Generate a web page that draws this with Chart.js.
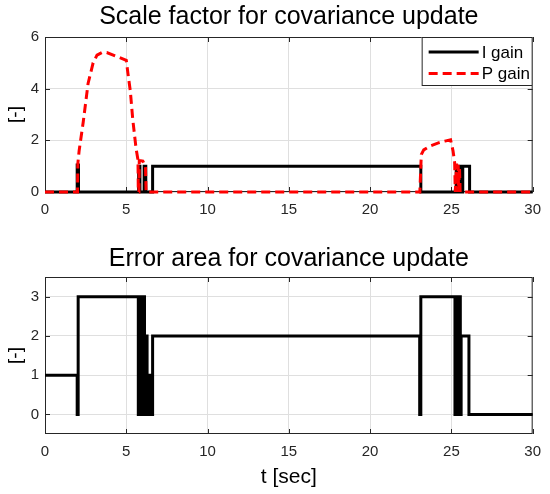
<!DOCTYPE html>
<html>
<head>
<meta charset="utf-8">
<script src="https://cdn.jsdelivr.net/npm/chart.js@4.4.1/dist/chart.umd.min.js"></script>
<style>
  html, body { margin: 0; padding: 0; background: #fff; }
  #wrap { position: relative; width: 550px; height: 494px; }
  .panel { position: absolute; left: 0; width: 550px; }
</style>
</head>
<body>
<div id="wrap">
  <div class="panel" style="top:0;height:240px"><canvas id="c_top" width="550" height="240"></canvas></div>
  <div class="panel" style="top:240px;height:254px"><canvas id="c_bottom" width="550" height="254"></canvas></div>
</div>
<script>
// tick labels
var x_ticks = [0, 5, 10, 15, 20, 25, 30];
var y_ticks_top = [0, 2, 4, 6];
var y_ticks_bottom = [0, 1, 2, 3];

// I gain (step signal): level i holds between edge i and edge i+1
var igain_edges = [0, 1.98, 2.06, 5.76, 5.84, 6.1, 6.2, 6.62, 23.12, 25.3, 25.36, 25.46, 25.52, 25.7, 26.12, 30];
var igain_levels = [0, 1.05, 0, 1, 0, 1, 0, 1, 0, 1, 0, 1, 0, 1, 0];

// P gain (curve)
var pgain_t = [0, 2.0, 2.02, 2.1, 2.35, 2.65, 2.96, 3.2, 3.5, 3.8,
               4.4, 5.0, 5.1, 5.25, 5.4, 5.6, 5.72, 5.74, 5.78, 5.8,
               6.02, 6.18, 6.22, 23.06, 23.15, 23.3, 23.7, 24.2, 24.6, 24.95,
               25.1, 25.2, 25.24, 25.32, 25.34, 25.42, 25.44, 25.5, 25.54, 30];
var pgain_v = [0, 0, 1.1, 1.6, 2.7, 4.2, 5.0, 5.3, 5.4, 5.4,
               5.25, 5.1, 4.6, 3.9, 2.8, 1.7, 1.24, 0, 0, 1.22,
               1.2, 1.0, 0, 0, 1.45, 1.63, 1.78, 1.9, 1.97, 2.02,
               1.6, 1.15, 0, 1.1, 0, 1.05, 0, 0.95, 0, 0];

// error area (step signal)
var area_edges = [0, 1.98, 2.04, 5.74, 5.8, 5.96, 6.02, 6.12, 6.2, 6.28, 6.35, 6.52, 6.62,
                  23.05, 23.12, 25.22, 25.27, 25.32, 25.37, 25.42, 25.47, 25.55, 25.6, 26.08, 30];
var area_levels = [1, 0, 3, 0, 3, 0, 3, 0, 2, 0, 1, 0, 2, 0, 3, 0, 3, 0, 3, 0, 3, 0, 2, 0];

var font_family = "'Liberation Sans', Arial, Helvetica, sans-serif";
var clr_axis = '#262626';
var clr_grid = '#dfdfdf';

Chart.defaults.font.family = font_family;
Chart.defaults.color = clr_axis;

function step_points(edges, levels) {
  var pts = [];
  for (let i = 0; i < levels.length; i++) {
    pts.push({x: edges[i], y: levels[i]});
    pts.push({x: edges[i + 1], y: levels[i]});
  }
  return pts;
}

function curve_points(t, v) {
  return t.map(function(x, i) {return {x: x, y: v[i]}});
}

function fixed_ticks(arr) {
  return function(scale) {
    scale.ticks = arr.map(function(v) {return {value: v}});
  };
}

// box around the axes with inward ticks, like matlab "box on"
var box_plugin = {
  id: 'matlab_box',
  beforeDatasetsDraw: function(chart) {
    var ctx = chart.ctx;
    var a = chart.chartArea;
    var xs = chart.scales.x;
    var ys = chart.scales.y;
    var tl = 5;
    ctx.save();
    ctx.strokeStyle = clr_axis;
    ctx.lineWidth = 1;
    ctx.strokeRect(a.left + 0.5, a.top + 0.5, a.right - a.left - 1, a.bottom - a.top - 1);
    ctx.beginPath();
    xs.ticks.forEach(function(t) {
      var px = Math.round(xs.getPixelForValue(t.value)) + 0.5;
      ctx.moveTo(px, a.bottom); ctx.lineTo(px, a.bottom - tl);
      ctx.moveTo(px, a.top); ctx.lineTo(px, a.top + tl);
    });
    ys.ticks.forEach(function(t) {
      var py = Math.round(ys.getPixelForValue(t.value)) + 0.5;
      ctx.moveTo(a.left, py); ctx.lineTo(a.left + tl, py);
      ctx.moveTo(a.right, py); ctx.lineTo(a.right - tl, py);
    });
    ctx.stroke();
    ctx.restore();
  }
};

var legend_plugin = {
  id: 'inner_legend',
  afterDatasetsDraw: function(chart) {
    var ctx = chart.ctx;
    var a = chart.chartArea;
    var w = 111, h = 49;
    var x0 = a.right - w, y0 = a.top;
    ctx.save();
    ctx.fillStyle = '#fff';
    ctx.fillRect(x0, y0, w, h);
    ctx.strokeStyle = clr_axis;
    ctx.lineWidth = 1;
    ctx.strokeRect(x0 + 0.5, y0 + 0.5, w - 1, h - 1);
    ctx.font = '17px ' + font_family;
    ctx.textBaseline = 'middle';
    chart.data.datasets.forEach(function(ds, i) {
      var yy = y0 + 15 + i * 21.5;
      ctx.beginPath();
      ctx.setLineDash(ds.borderDash || []);
      ctx.strokeStyle = ds.borderColor;
      ctx.lineWidth = ds.borderWidth;
      ctx.moveTo(x0 + 7, yy);
      ctx.lineTo(x0 + 57, yy);
      ctx.stroke();
      ctx.setLineDash([]);
      ctx.fillStyle = '#000';
      ctx.fillText(ds.label, x0 + 60, yy + 1);
    });
    ctx.restore();
  }
};

function make_panel(ctx, cfg) {
  return new Chart(ctx, {
    type: 'line',
    data: {datasets: cfg.datasets},
    options: {
      responsive: false,
      animation: false,
      events: [],
      layout: {padding: {left: 0, right: 15, top: 0, bottom: 0}},
      elements: {point: {radius: 0}, line: {tension: 0}},
      plugins: {
        legend: {display: false},
        tooltip: {enabled: false},
        title: {
          display: true,
          fullSize: false,
          text: cfg.title,
          color: '#000',
          font: {size: 25, weight: 'normal'},
          padding: cfg.title_pad
        }
      },
      scales: {
        x: {
          type: 'linear',
          min: 0,
          max: 30,
          afterBuildTicks: fixed_ticks(x_ticks),
          afterFit: function(scale) { scale.height = cfg.x_height; },
          grid: {color: clr_grid, drawTicks: false},
          border: {display: false},
          ticks: {padding: 9, font: {size: 15}, color: clr_axis},
          title: {
            display: cfg.x_title !== '',
            text: cfg.x_title,
            color: '#000',
            font: {size: 21},
            padding: {top: 0, bottom: 3.9}
          }
        },
        y: {
          type: 'linear',
          min: cfg.y_min,
          max: cfg.y_max,
          afterBuildTicks: fixed_ticks(cfg.y_ticks),
          afterFit: function(scale) { scale.width = 45; },
          grid: {color: clr_grid, drawTicks: false},
          border: {display: false},
          ticks: {padding: 6, font: {size: 15}, color: clr_axis},
          title: {
            display: true,
            text: '[-]',
            color: '#000',
            font: {size: 19},
            padding: {top: 4, bottom: 0}
          }
        }
      }
    },
    plugins: cfg.plugins
  });
}

var top_chart = make_panel(document.getElementById('c_top'), {
  title: 'Scale factor for covariance update',
  title_pad: {top: 2.5, bottom: 4.5},
  x_height: 48,
  x_title: '',
  y_min: 0,
  y_max: 6,
  y_ticks: y_ticks_top,
  plugins: [box_plugin, legend_plugin],
  datasets: [
    {
      label: 'I gain',
      data: step_points(igain_edges, igain_levels),
      borderColor: '#000000',
      borderWidth: 3,
      borderJoinStyle: 'miter',
      clip: 4,
      order: 1
    },
    {
      label: 'P gain',
      data: curve_points(pgain_t, pgain_v),
      borderColor: '#ff0000',
      borderWidth: 3,
      borderDash: [9, 5],
      clip: 4,
      order: 0
    }
  ]
});

var bottom_chart = make_panel(document.getElementById('c_bottom'), {
  title: 'Error area for covariance update',
  title_pad: {top: 4, bottom: 3},
  x_height: 60,
  x_title: 't [sec]',
  y_min: -0.5,
  y_max: 3.5,
  y_ticks: y_ticks_bottom,
  plugins: [box_plugin],
  datasets: [
    {
      label: 'Error area',
      data: step_points(area_edges, area_levels),
      borderColor: '#000000',
      borderWidth: 3,
      borderJoinStyle: 'miter',
      clip: 4
    }
  ]
});
</script>
</body>
</html>
